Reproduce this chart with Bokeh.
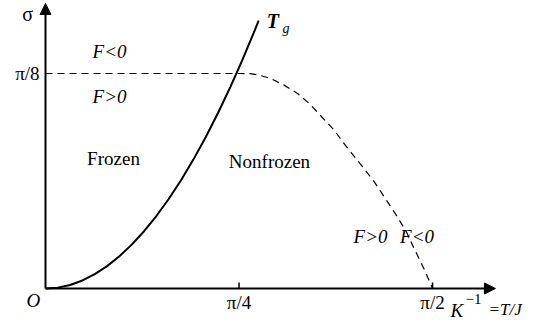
from bokeh.plotting import figure
from bokeh.models import Range1d, Arrow, NormalHead, ColumnDataSource
from bokeh.core.properties import value
from bokeh.embed import file_html
from bokeh.resources import INLINE
import math

# Glass-transition line T_g (K^-1 vs sigma)
TG_K = [0.0, 0.05, 0.1, 0.15, 0.2, 0.25, 0.3, 0.35, 0.4, 0.45, 0.5, 0.55,
        0.6, 0.65, 0.7, 0.75, 0.8, 0.85, 0.865]
TG_SIGMA = [0.0, 0.0016, 0.0065, 0.0147, 0.0262, 0.0409, 0.0589, 0.0801,
            0.1046, 0.1324, 0.1635, 0.1978, 0.2354, 0.2763, 0.3205, 0.3679,
            0.4186, 0.4725, 0.4893]

# F = 0 boundary
F0_K = [0.0, 0.79, 0.832, 0.873, 0.913, 0.97, 1.023, 1.07, 1.116, 1.17,
        1.218, 1.275, 1.331, 1.38, 1.429, 1.465, 1.494, 1.535, 1.571]
F0_SIGMA = [0.3927, 0.3927, 0.3925, 0.389, 0.3836, 0.371, 0.3562, 0.338,
            0.316, 0.29, 0.261, 0.229, 0.197, 0.164, 0.130, 0.103, 0.075,
            0.037, 0.0]

# ticks
X_TICKS = [math.pi / 4, math.pi / 2]
X_TICK_LABELS = ["π/4", "π/2"]
Y_TICKS = [math.pi / 8]
Y_TICK_LABELS = ["π/8"]

FONT = value("'Liberation Serif', 'Times New Roman', serif")

p = figure(width=554, height=322, output_backend="svg", toolbar_location=None,
           x_axis_type=None, y_axis_type=None, min_border=0,
           x_range=Range1d(-0.1826, 2.0657), y_range=Range1d(-0.0621, 0.526))
p.grid.visible = False
p.outline_line_color = None
p.background_fill_color = "white"
p.border_fill_color = "white"

# axes with arrow heads
p.add_layout(Arrow(x_start=0, y_start=0, x_end=1.826, y_end=0,
                   line_width=2, line_color="black",
                   end=NormalHead(size=11, fill_color="black", line_color="black")))
p.add_layout(Arrow(x_start=0, y_start=0, x_end=0, y_end=0.5205,
                   line_width=2, line_color="black",
                   end=NormalHead(size=11, fill_color="black", line_color="black")))

# tick marks
p.segment(x0=X_TICKS, y0=[0] * len(X_TICKS), x1=X_TICKS, y1=[0.011] * len(X_TICKS),
          line_color="black", line_width=1.5)
p.segment(x0=[0] * len(Y_TICKS), y0=Y_TICKS, x1=[0.02] * len(Y_TICKS), y1=Y_TICKS,
          line_color="black", line_width=1.2)

# curves
p.line(TG_K, TG_SIGMA, line_color="black", line_width=2)
p.line(F0_K, F0_SIGMA, line_color="black", line_width=1.2, line_dash="7 5")

# tick labels
p.text(x=X_TICKS, y=[-0.026] * len(X_TICKS), text=X_TICK_LABELS, text_font=FONT,
       text_font_size="19px", text_align="center", text_baseline="middle")
p.text(x=[-0.024], y=Y_TICKS, text=Y_TICK_LABELS, text_font=FONT,
       text_font_size="19px", text_align="right", text_baseline="middle")

# axis names and origin
p.text(x=[-0.072], y=[0.502], text=["σ"], text_font=FONT, text_font_size="20px",
       text_align="center", text_baseline="middle")
p.text(x=[-0.049], y=[-0.022], text=["O"], text_font=FONT, text_font_size="19px",
       text_font_style="italic", text_align="center", text_baseline="middle")
p.text(x=[1.644], y=[-0.040], text=["K"], text_font=FONT, text_font_size="19px",
       text_font_style="italic", text_align="left", text_baseline="middle")
p.text(x=[1.705], y=[-0.020], text=["−1"], text_font=FONT, text_font_size="15px",
       text_align="left", text_baseline="middle")
p.text(x=[1.798], y=[-0.038], text=["=T/J"], text_font=FONT, text_font_size="17px",
       text_font_style="italic", text_align="left", text_baseline="middle")

# T_g label
p.text(x=[0.898], y=[0.489], text=["T"], text_font=FONT, text_font_size="20px",
       text_font_style="bold italic", text_align="left", text_baseline="middle")
p.text(x=[0.962], y=[0.474], text=["g"], text_font=FONT, text_font_size="14px",
       text_font_style="italic", text_align="left", text_baseline="middle")

# region labels
regions = ColumnDataSource(dict(
    x=[0.26, 0.26, 1.319, 1.508],
    y=[0.433, 0.351, 0.095, 0.095],
    t=["F<0", "F>0", "F>0", "F<0"],
))
p.text(x="x", y="y", text="t", source=regions, text_font=FONT, text_font_size="19px",
       text_font_style="italic", text_align="center", text_baseline="middle")
p.text(x=[0.276, 0.909], y=[0.237, 0.232], text=["Frozen", "Nonfrozen"],
       text_font=FONT, text_font_size="19px", text_align="center",
       text_baseline="middle")

open("out.html", "w").write(file_html(p, INLINE))
